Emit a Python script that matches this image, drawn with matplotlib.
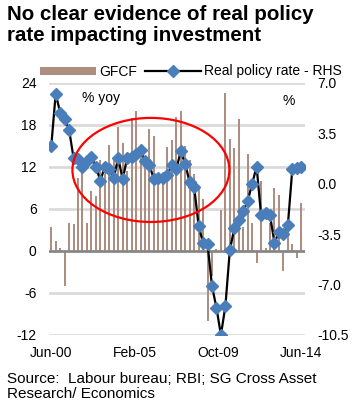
import numpy as np
import pandas as pd
import matplotlib
matplotlib.use("Agg")
import matplotlib.pyplot as plt
from matplotlib.patches import Ellipse, Patch
from matplotlib.lines import Line2D

plt.rcParams['font.family'] = ['Liberation Sans', 'DejaVu Sans']

# ---- data (quarterly, Jun-00 .. Jun-14) ----
quarters = pd.date_range('2000-06-01', '2014-06-01', freq='3MS')

gfcf = [3.4, 1.4, 0.4, -5.0, 4.0, 3.8, 10.5, 12.0, 4.0, 8.6,
        7.8, 13.0, 11.0, 15.2, 13.5, 17.7, 15.4, 11.5, 19.0, 20.0,
        13.5, 12.0, 17.4, 16.5, 11.0, 10.5, 14.8, 15.9, 19.2, 20.0,
        15.0, 13.0, 11.0, 9.0, 7.5, -10.0, -3.6, 0.3, 5.9, 22.6,
        16.0, 14.7, 18.8, 3.5, 13.9, 4.0, -1.7, 10.0, 0.5, 4.0,
        9.0, 8.0, -2.9, 2.9, 1.0, -1.0, 6.9]

real_rate = [2.6, 6.25, 4.95, 4.5, 3.75, 1.8, 1.7, 1.2, 1.6, 1.85,
             1.2, 0.2, 1.2, 1.0, 0.4, 1.8, 0.3, 1.8, 1.85, 2.1,
             2.35, 1.55, 1.3, 0.3, 0.4, 0.4, 0.6, 1.3, 1.0, 2.25,
             1.4, 0.1, -0.2, -2.9, -4.1, -4.15, -7.1, -8.6, -10.5, -8.5,
             -4.6, -3.1, -2.5, -1.9, -1.2, 0.0, 1.2, -2.2, -2.0, -2.2,
             -4.1, -3.35, -3.5, -2.85, 1.05, 1.1, 1.15]

tick_labels = ['Jun-00', 'Feb-05', 'Oct-09', 'Jun-14']
left_ticks = [24, 18, 12, 6, 0, -6, -12]
right_ticks = [7.0, 3.5, 0.0, -3.5, -7.0, -10.5]

def month_index(d):
    return (d.year - 2000) * 12 + d.month - 6

x = np.array([month_index(d) for d in quarters])
tick_pos = [month_index(pd.to_datetime(t, format='%b-%y')) for t in tick_labels]

# ---- figure ----
W, H = 354, 412
fig = plt.figure(figsize=(W / 100, H / 100), dpi=100)
L, R, T, B = 49, 305, 83, 335
ax = fig.add_axes([L / W, 1 - B / H, (R - L) / W, (B - T) / H])
ax2 = ax.twinx()

bar_color = '#AE8E80'
ax.bar(x, gfcf, width=1.35, color=bar_color, zorder=3)
ax.set_ylim(-12, 24)
ax.set_xlim(-1.5, 170.5)
ax.set_yticks(left_ticks)
ax.set_yticklabels([str(v) for v in left_ticks])
for v in left_ticks:
    if v == 0:
        continue
    ax.axhline(v, color='#D9D9D9', lw=1.9, zorder=1)
ax.axhline(0, color='#878787', lw=2.0, zorder=4)

ax.set_xticks(tick_pos)
ax.set_xticklabels(tick_labels)

ax2.plot(x, real_rate, color='black', lw=1.6, marker='D', markersize=6.3,
         markerfacecolor='#4A7EBB', markeredgecolor='#4A7EBB', zorder=5)
ax2.set_ylim(-10.5, 7)
ax2.set_yticks(right_ticks)
ax2.set_yticklabels([f'{v:.1f}' for v in right_ticks])

for a in (ax, ax2):
    for s in a.spines.values():
        s.set_visible(False)
    a.tick_params(length=0, labelsize=10, colors='black')
ax.tick_params(axis='y', pad=9)
ax2.tick_params(axis='y', pad=9)
ax.tick_params(axis='x', pad=8)

# red ellipse highlight
ell = Ellipse((0.398, 0.655), 0.613, 0.413, transform=ax2.transAxes,
              fill=False, edgecolor='#FF0000', lw=1.6, zorder=10)
ax2.add_patch(ell)

ax.text(0.129, 0.94, '% yoy', transform=ax.transAxes, fontsize=10,
        ha='left', va='center')
ax.text(0.935, 0.929, '%', transform=ax.transAxes, fontsize=10,
        ha='center', va='center')

# title
fig.text(7 / W, 1 - 5 / H, 'No clear evidence of real policy\nrate impacting investment',
         fontsize=14.8, fontweight='bold', ha='left', va='top', linespacing=1.15)

# legend
handles = [Patch(facecolor=bar_color, edgecolor='none'),
           Line2D([0], [0], color='black', lw=1.6, marker='D', markersize=6.3,
                  markerfacecolor='#4A7EBB', markeredgecolor='#4A7EBB')]
fig.legend(handles, ['GFCF', 'Real policy rate - RHS'], ncol=2, frameon=False,
           loc='center left', bbox_to_anchor=(40 / W, 1 - 71.5 / H),
           borderpad=0, borderaxespad=0, fontsize=10, handlelength=4.0,
           handleheight=0.5, handletextpad=0.25, columnspacing=0.6)

# source
fig.text(7 / W, 1 - 372 / H, 'Source:  Labour bureau; RBI; SG Cross Asset\nResearch/ Economics',
         fontsize=11, ha='left', va='top', linespacing=1.05)

fig.savefig('out.png', dpi=100)
